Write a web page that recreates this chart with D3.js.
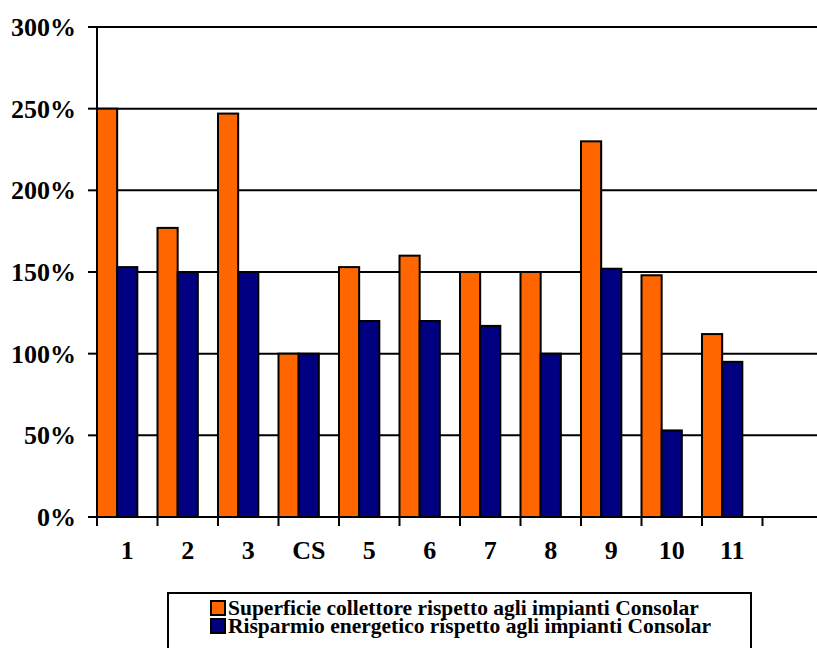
<!DOCTYPE html>
<meta charset='utf-8'>
<style>
  body { margin: 0; background: #fff; }
  text { font-family: 'Liberation Serif', 'Times New Roman', serif; font-weight: bold; }
</style>
<div id='chart'></div>
<script src='https://d3js.org/d3.v7.min.js'></script>
<script>

  // categories (the last slot is left empty, as in the original)
  var categories = ['1', '2', '3', 'CS', '5', '6', '7', '8', '9', '10', '11', ''];
  var superficie = [250, 177, 247, 100, 153, 160, 150, 150, 230, 148, 112];
  var risparmio  = [153, 150, 150, 100, 120, 120, 117, 100, 152, 53, 95];
  var yTicks = [0, 50, 100, 150, 200, 250, 300];
  var seriesNames = ['Superficie collettore rispetto agli impianti Consolar',
                     'Risparmio energetico rispetto agli impianti Consolar'];
  var seriesColors = ['#ff6600', '#000080'];

  var W = 817, H = 648;
  var plotLeft = 97, plotTop = 27, plotBottom = 517, plotRight = 823;

  var svg = d3.select('#chart')
    .append('svg')
      .attr('width', W)
      .attr('height', H);

  var x = d3.scaleBand()
    .domain(d3.range(categories.length))
    .range([plotLeft, plotRight])
    .padding(0);

  var y = d3.scaleLinear()
    .domain([0, 300])
    .range([plotBottom, plotTop]);

  // gridlines
  svg.append('g')
    .selectAll('line')
    .data(yTicks.slice(1))
    .enter()
    .append('line')
      .attr('x1', plotLeft)
      .attr('x2', plotRight)
      .attr('y1', function (d) { return y(d); })
      .attr('y2', function (d) { return y(d); })
      .attr('stroke', '#000')
      .attr('stroke-width', 2);

  // bars: placed at the start of each category slot
  var bw = x.bandwidth() / 3;
  var series = [superficie, risparmio];
  series.forEach(function (vals, s) {
    svg.append('g')
      .selectAll('rect')
      .data(vals)
      .enter()
      .append('rect')
        .attr('x', function (d, i) { return x(i) + s * bw; })
        .attr('y', function (d) { return y(d); })
        .attr('width', bw)
        .attr('height', function (d) { return y(0) - y(d); })
        .attr('fill', seriesColors[s])
        .attr('stroke', '#000')
        .attr('stroke-width', 2);
  });

  // y axis
  svg.append('line')
    .attr('x1', plotLeft).attr('x2', plotLeft)
    .attr('y1', plotTop).attr('y2', plotBottom)
    .attr('stroke', '#000').attr('stroke-width', 2);
  var yg = svg.append('g');
  yg.selectAll('line')
    .data(yTicks)
    .enter()
    .append('line')
      .attr('x1', plotLeft - 9).attr('x2', plotLeft)
      .attr('y1', function (d) { return y(d); })
      .attr('y2', function (d) { return y(d); })
      .attr('stroke', '#000').attr('stroke-width', 2);
  yg.selectAll('text')
    .data(yTicks)
    .enter()
    .append('text')
      .attr('x', 76)
      .attr('y', function (d) { return y(d); })
      .attr('dy', '0.35em')
      .attr('text-anchor', 'end')
      .style('font-size', '26px')
      .text(function (d) { return d + '%'; });

  // x axis
  svg.append('line')
    .attr('x1', plotLeft).attr('x2', plotRight)
    .attr('y1', plotBottom).attr('y2', plotBottom)
    .attr('stroke', '#000').attr('stroke-width', 2);
  var xg = svg.append('g');
  xg.selectAll('line')
    .data(d3.range(categories.length + 1))
    .enter()
    .append('line')
      .attr('x1', function (i) { return plotLeft + i * x.step(); })
      .attr('x2', function (i) { return plotLeft + i * x.step(); })
      .attr('y1', plotBottom).attr('y2', plotBottom + 9)
      .attr('stroke', '#000').attr('stroke-width', 2);
  xg.selectAll('text')
    .data(categories)
    .enter()
    .append('text')
      .attr('x', function (d, i) { return x(i) + x.bandwidth() / 2; })
      .attr('y', 559)
      .attr('text-anchor', 'middle')
      .style('font-size', '26px')
      .text(function (d) { return d; });

  // legend
  var lg = svg.append('g');
  lg.append('rect')
    .attr('x', 168).attr('y', 593)
    .attr('width', 583).attr('height', 70)
    .attr('fill', '#fff')
    .attr('stroke', '#000').attr('stroke-width', 2);
  seriesNames.forEach(function (name, s) {
    lg.append('rect')
      .attr('x', 211).attr('y', 601 + s * 18)
      .attr('width', 14).attr('height', 14)
      .attr('fill', seriesColors[s])
      .attr('stroke', '#000').attr('stroke-width', 2);
    lg.append('text')
      .attr('x', 228).attr('y', 615 + s * 18)
      .style('font-size', '21.5px')
      .text(name);
  });

</script>
